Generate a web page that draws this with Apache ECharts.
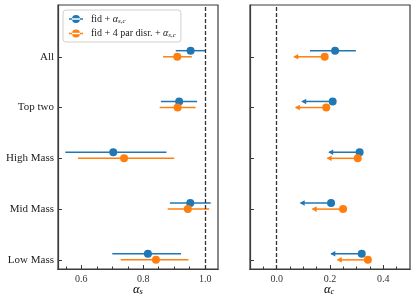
<!DOCTYPE html>
<html><head><meta charset="utf-8">
<script src="https://cdn.jsdelivr.net/npm/echarts@6/dist/echarts.min.js"></script>
<style>html,body{margin:0;padding:0;background:#fff}#c{width:416px;height:304px}</style>
</head><body><div id="c"></div>
<script>
// ---- data ----
const categories = ['Low Mass', 'Mid Mass', 'High Mass', 'Top two', 'All'];
const catPos = [0, 1, 2, 3, 4];
const fidOffset = 0.12; // vertical offset of the "fid" series within a category

// alpha_s (left panel)
const asFidVal = [0.815, 0.952, 0.703, 0.916, 0.953];
const asFidLo  = [0.700, 0.886, 0.548, 0.857, 0.905];
const asFidHi  = [0.922, 1.018, 0.875, 0.974, 1.000];
const asDisVal = [0.841, 0.944, 0.738, 0.911, 0.910];
const asDisLo  = [0.727, 0.879, 0.589, 0.853, 0.864];
const asDisHi  = [0.946, 1.013, 0.900, 0.969, 0.957];

// alpha_c (right panel); limit = 1 means upper limit arrow from value to lo
const acFidVal = [0.319, 0.204, 0.311, 0.210, 0.219];
const acFidLo  = [0.205, 0.090, 0.197, 0.096, 0.125];
const acFidHi  = [0.319, 0.204, 0.311, 0.210, 0.297];
const acFidLim = [1, 1, 1, 1, 0];
const acDisVal = [0.342, 0.249, 0.304, 0.186, 0.180];
const acDisLo  = [0.229, 0.135, 0.191, 0.072, 0.066];
const acDisHi  = [0.342, 0.249, 0.304, 0.186, 0.180];
const acDisLim = [1, 1, 1, 1, 1];

const asMajor = [0.6, 0.8, 1.0];
const asMinor = [0.55, 0.65, 0.7, 0.75, 0.85, 0.9, 0.95];
const acMajor = [0.0, 0.2, 0.4];
const acMinor = [-0.05, 0.05, 0.1, 0.15, 0.25, 0.3, 0.35, 0.45];

// ---- styles ----
const BLUE = '#1f77b4', ORANGE = '#ff7f0e';
const FONT = 'Liberation Serif';
const AXC = '#3a3a3a';

function errData(pos, off, lo, hi, lim) {
  return pos.map((p, i) => [p + off, lo[i], hi[i], lim ? lim[i] : 0]);
}
function ptData(pos, off, val) { return pos.map((p, i) => [val[i], p + off]); }

function makeRender(color) {
  return function (params, api) {
    const y = api.value(0), lo = api.value(1), hi = api.value(2), lim = api.value(3);
    const a = api.coord([lo, y]), b = api.coord([hi, y]);
    const ch = [{ type: 'line', shape: { x1: a[0], y1: a[1], x2: b[0], y2: b[1] },
      style: { stroke: color, lineWidth: 1.5 } }];
    if (lim) {
      ch.push({ type: 'polygon', shape: { points: [[a[0] - 1, a[1]], [a[0] + 4, a[1] - 2.8], [a[0] + 4, a[1] + 2.8]] },
        style: { fill: color } });
    }
    return { type: 'group', children: ch };
  };
}

function errSeries(xi, data, color) {
  return { type: 'custom', xAxisIndex: xi, yAxisIndex: xi === 0 ? 0 : 1, data: data,
    renderItem: makeRender(color), encode: { x: [1, 2], y: 0 }, silent: true, z: 3 };
}
function ptSeries(name, xi, data, color) {
  return { type: 'scatter', name: name, xAxisIndex: xi, yAxisIndex: xi === 0 ? 0 : 1,
    data: data, symbolSize: 8, itemStyle: { color: color, opacity: 1 }, z: 4, silent: true };
}

function xAx(grid, min, max, major, labelShow) {
  return { type: 'value', gridIndex: grid, min: min, max: max, position: 'bottom',
    splitLine: { show: false },
    axisLine: { show: true, onZero: false, lineStyle: { color: AXC, width: 1.2 } },
    axisTick: { show: true, inside: true, length: 4, customValues: major, lineStyle: { color: AXC } },
    axisLabel: { show: labelShow, customValues: major, color: '#333', fontFamily: FONT, fontSize: 10,
      margin: 5, formatter: v => v.toFixed(1) } };
}
function xMinor(grid, min, max, minor) {
  return { type: 'value', gridIndex: grid, min: min, max: max, position: 'bottom', offset: 0,
    splitLine: { show: false }, axisLine: { show: true, onZero: false, lineStyle: { color: AXC, width: 1.2 } },
    axisTick: { show: true, inside: true, length: 2.5, customValues: minor, lineStyle: { color: AXC } },
    axisLabel: { show: false } };
}
function yAx(grid, showLabels) {
  return { type: 'value', gridIndex: grid, min: -0.18, max: 5.02,
    splitLine: { show: false },
    axisLine: { show: true, onZero: false, lineStyle: { color: AXC, width: 1.2 } },
    axisTick: { show: true, inside: true, length: 4, customValues: catPos, lineStyle: { color: AXC } },
    axisLabel: { show: showLabels, customValues: catPos, color: '#222', fontFamily: FONT, fontSize: 11,
      margin: 4, formatter: v => categories[Math.round(v)] } };
}

const legendRich = {
  t: { fontFamily: FONT, fontSize: 10, color: '#222' },
  a: { fontFamily: FONT, fontSize: 10, fontStyle: 'italic', color: '#222' },
  s: { fontFamily: FONT, fontSize: 7, fontStyle: 'italic', color: '#222', padding: [4, 0, 0, 0] }
};
const axisRich = {
  a: { fontFamily: FONT, fontSize: 12.5, fontStyle: 'italic', color: '#333' },
  s: { fontFamily: FONT, fontSize: 8.5, fontStyle: 'italic', color: '#333', padding: [5, 0, 0, 0] }
};
const ICON = 'path://M0,3.3H14V4.7H0Z M3,4A4,4 0 1,0 11,4A4,4 0 1,0 3,4Z';

const series = [
  errSeries(0, errData(catPos, fidOffset, asFidLo, asFidHi), BLUE),
  errSeries(0, errData(catPos, 0, asDisLo, asDisHi), ORANGE),
  ptSeries('fid', 0, ptData(catPos, fidOffset, asFidVal), BLUE),
  ptSeries('dis', 0, ptData(catPos, 0, asDisVal), ORANGE),
  errSeries(2, errData(catPos, fidOffset, acFidLo, acFidHi, acFidLim), BLUE),
  errSeries(2, errData(catPos, 0, acDisLo, acDisHi, acDisLim), ORANGE),
  ptSeries('fid', 2, ptData(catPos, fidOffset, acFidVal), BLUE),
  ptSeries('dis', 2, ptData(catPos, 0, acDisVal), ORANGE)
];
// reference dashed lines
series[2].markLine = { silent: true, symbol: 'none', label: { show: false },
  lineStyle: { type: [4, 2], color: '#333', width: 1.3 }, data: [{ xAxis: 1.0 }] };
series[6].markLine = { silent: true, symbol: 'none', label: { show: false },
  lineStyle: { type: [4, 2], color: '#333', width: 1.3 }, data: [{ xAxis: 0.0 }] };

const chart = echarts.init(document.getElementById('c'), null, { renderer: 'canvas' });
chart.setOption({
  animation: false,
  backgroundColor: '#fff',
  grid: [
    { left: 58, right: 198, top: 5, bottom: 35, show: true, borderColor: AXC, borderWidth: 1.2, backgroundColor: 'transparent' },
    { left: 250, right: 6, top: 5, bottom: 35, show: true, borderColor: AXC, borderWidth: 1.2, backgroundColor: 'transparent' }
  ],
  xAxis: [
    xAx(0, 0.5245, 1.0415, asMajor, true),
    xMinor(0, 0.5245, 1.0415, asMinor),
    xAx(1, -0.1, 0.5, acMajor, true),
    xMinor(1, -0.1, 0.5, acMinor)
  ],
  yAxis: [yAx(0, true), yAx(1, false)],
  legend: {
    left: 63, top: 10, orient: 'vertical', itemWidth: 14, itemHeight: 8, itemGap: 4,
    padding: [4, 5, 3, 6], borderColor: '#d0d0d0', borderWidth: 1, borderRadius: 3,
    backgroundColor: '#fff', selectedMode: false,
    data: [{ name: 'fid', icon: ICON }, { name: 'dis', icon: ICON }],
    textStyle: { rich: legendRich, padding: [0, 0, 0, 3] },
    formatter: n => n === 'fid' ? '{t|fid + }{a|α}{s|s,c}' : '{t|fid + 4 par disr. + }{a|α}{s|s,c}'
  },
  graphic: [
    { type: 'text', left: 133, top: 283, style: { text: '{a|α}{s|s}', rich: axisRich } },
    { type: 'text', left: 324, top: 283, style: { text: '{a|α}{s|c}', rich: axisRich } }
  ],
  series: series
});
</script>
</body></html>
